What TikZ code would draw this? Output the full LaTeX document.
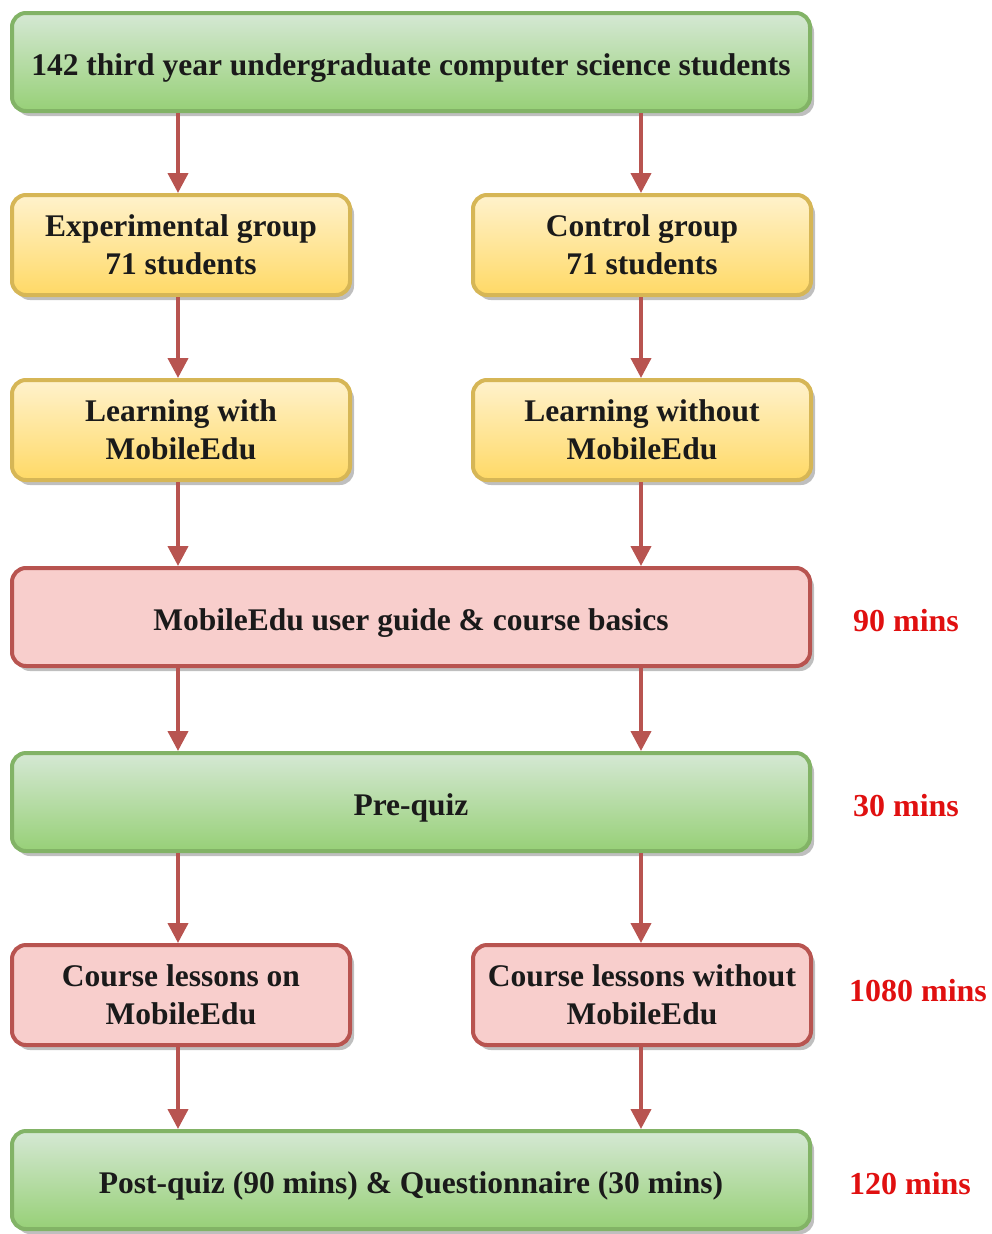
\documentclass[tikz,border=0pt]{standalone}
\usepackage{fontspec}
\setmainfont{Liberation Serif}
\usetikzlibrary{arrows.meta,shadows}
\definecolor{gfillA}{HTML}{D5E8D4}
\definecolor{gfillB}{HTML}{97D077}
\definecolor{gline}{HTML}{82B366}
\definecolor{yfillA}{HTML}{FFF2CC}
\definecolor{yfillB}{HTML}{FFD966}
\definecolor{yline}{HTML}{D6B656}
\definecolor{rfill}{HTML}{F8CECC}
\definecolor{rline}{HTML}{B85450}
\definecolor{timered}{HTML}{E01010}
\definecolor{txt}{HTML}{1A1A1A}
\tikzset{
  box/.style={rounded corners=14pt, line width=4pt, align=center, inner sep=0pt,
    font=\bfseries\fontsize{31.5}{38}\selectfont, text=txt,
    drop shadow={shadow xshift=4pt, shadow yshift=-5pt, fill=black, opacity=0.25}},
  gbox/.style={box, draw=gline, top color=gfillA, bottom color=gfillB},
  ybox/.style={box, draw=yline, top color=yfillA, bottom color=yfillB},
  rbox/.style={box, draw=rline, fill=rfill},
  wide/.style={minimum width=798pt, minimum height=98pt, text height=28pt, text depth=2pt},
  narrow/.style={minimum width=338pt, minimum height=100pt},
  flow/.style={draw=rline, line width=4pt, -{Triangle[width=20pt,length=20pt]}},
  timelbl/.style={text=timered, font=\bfseries\fontsize{32}{38}\selectfont}
}
\begin{document}
\begin{tikzpicture}[x=1pt,y=-1pt]
\useasboundingbox (0,0) rectangle (992,1234);
\node[gbox,wide] (top) at (411,62) {142 third year undergraduate computer science students};
\node[ybox,narrow] (eg) at (181,245) {Experimental group\\71 students};
\node[ybox,narrow] (cg) at (642,245) {Control group\\71 students};
\node[ybox,narrow] (lw) at (181,430) {Learning with\\MobileEdu};
\node[ybox,narrow] (lwo) at (642,430) {Learning without\\MobileEdu};
\node[rbox,wide] (guide) at (411,617) {MobileEdu user guide \& course basics};
\node[gbox,wide] (pre) at (411,802) {Pre-quiz};
\node[rbox,narrow] (cl) at (181,995) {Course lessons on\\MobileEdu};
\node[rbox,narrow] (clo) at (642,995) {Course lessons without\\MobileEdu};
\node[gbox,wide] (post) at (411,1180) {Post-quiz (90 mins) \& Questionnaire (30 mins)};

\node[timelbl] (t1) at (906,621) {90 mins};
\node[timelbl] (t2) at (906,806) {30 mins};
\node[timelbl] (t3) at (918,991) {1080 mins};
\node[timelbl] (t4) at (910,1184) {120 mins};

\coordinate (xl) at (178,0);
\coordinate (xr) at (641,0);
\draw[flow] (top.south -| xl) -- (eg.north -| xl);
\draw[flow] (top.south -| xr) -- (cg.north -| xr);
\draw[flow] (eg.south -| xl) -- (lw.north -| xl);
\draw[flow] (cg.south -| xr) -- (lwo.north -| xr);
\draw[flow] (lw.south -| xl) -- (guide.north -| xl);
\draw[flow] (lwo.south -| xr) -- (guide.north -| xr);
\draw[flow] (guide.south -| xl) -- (pre.north -| xl);
\draw[flow] (guide.south -| xr) -- (pre.north -| xr);
\draw[flow] (pre.south -| xl) -- (cl.north -| xl);
\draw[flow] (pre.south -| xr) -- (clo.north -| xr);
\draw[flow] (cl.south -| xl) -- (post.north -| xl);
\draw[flow] (clo.south -| xr) -- (post.north -| xr);
\end{tikzpicture}
\end{document}
